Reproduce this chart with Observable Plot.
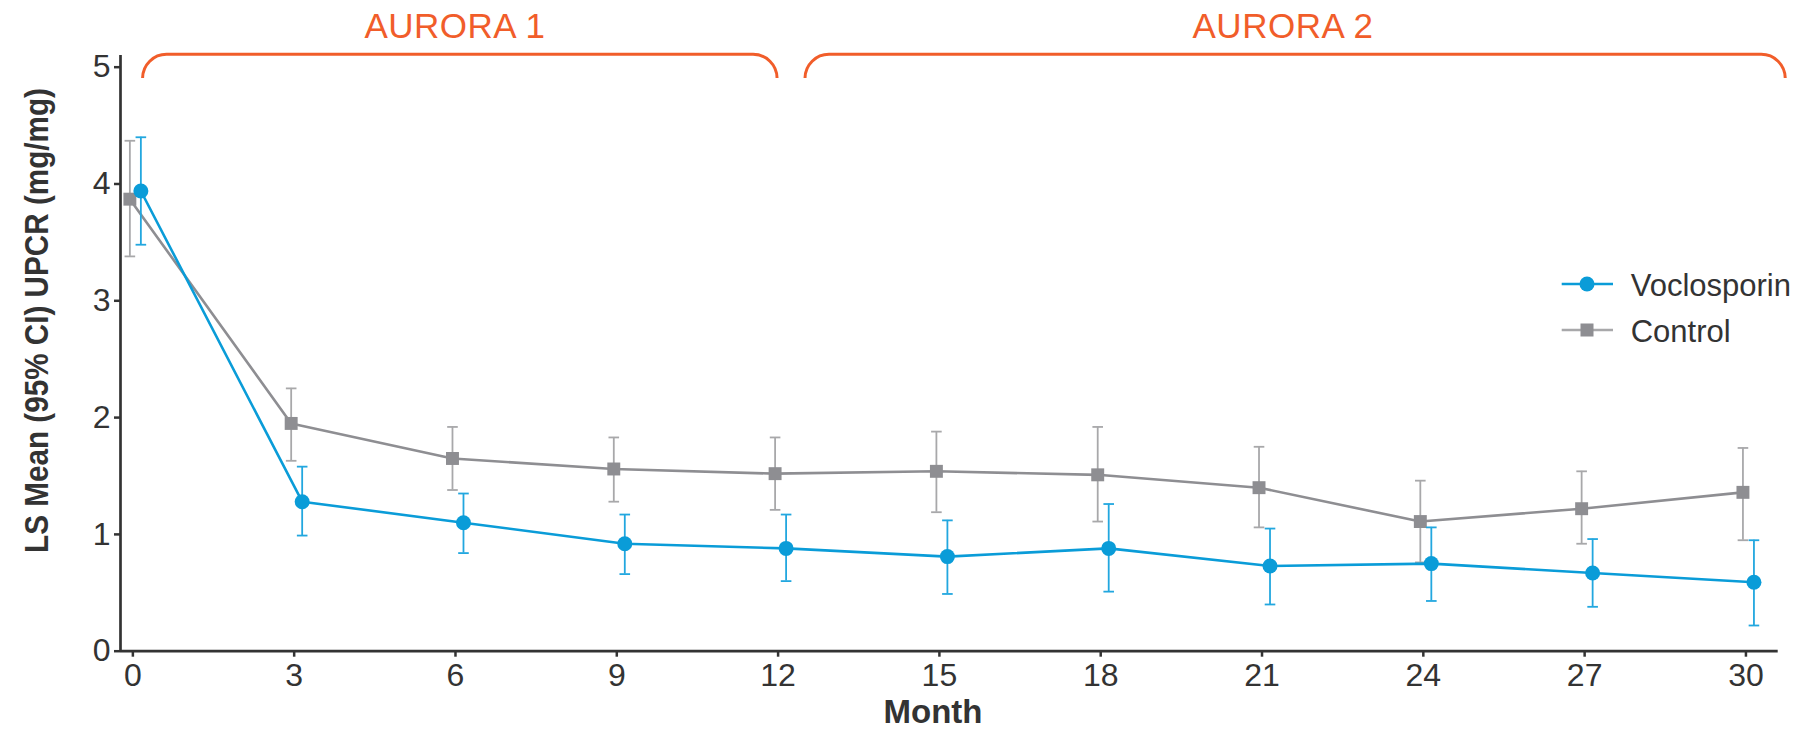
<!DOCTYPE html>
<html>
<head>
<meta charset="utf-8">
<script src="https://cdn.jsdelivr.net/npm/d3@7"></script>
<script src="https://cdn.jsdelivr.net/npm/@observablehq/plot@0.6"></script>
<style>
  html, body { margin: 0; padding: 0; background: #ffffff; }
  #chart svg { display: block; }
</style>
</head>
<body>
<div id="chart"></div>
<script>
// ---- Data ----
const months = [0, 3, 6, 9, 12, 15, 18, 21, 24, 27, 30];

const vocloMean  = [3.94, 1.28, 1.10, 0.92, 0.88, 0.81, 0.88, 0.73, 0.75, 0.67, 0.59];
const vocloLower = [3.48, 0.99, 0.84, 0.66, 0.60, 0.49, 0.51, 0.40, 0.43, 0.38, 0.22];
const vocloUpper = [4.40, 1.58, 1.35, 1.17, 1.17, 1.12, 1.26, 1.05, 1.06, 0.96, 0.95];

const controlMean  = [3.87, 1.95, 1.65, 1.56, 1.52, 1.54, 1.51, 1.40, 1.11, 1.22, 1.36];
const controlLower = [3.38, 1.63, 1.38, 1.28, 1.21, 1.19, 1.11, 1.06, 0.76, 0.92, 0.95];
const controlUpper = [4.37, 2.25, 1.92, 1.83, 1.83, 1.88, 1.92, 1.75, 1.46, 1.54, 1.74];

const seriesNames = ["Voclosporin", "Control"];
const yTicks = [0, 1, 2, 3, 4, 5];

const studyLabels     = ["AURORA 1", "AURORA 2"];
const studyStartMonth = [0.19, 12.51];
const studyEndMonth   = [11.99, 30.74];
const studyLabelMonth = [6.0, 21.4];

const xTitle = "Month";
const yTitle = "LS Mean (95% CI) UPCR (mg/mg)";

// ---- Styling ----
const FONT = "'Liberation Sans', Arial, Helvetica, sans-serif";
const BLUE = "#0a9cd8";
const BLUE_BAR = "#22a7df";
const GRAY = "#8e8e92";
const GRAY_BAR = "#a8a8aa";
const ORANGE = "#f15d2a";
const INK = "#333333";

const voc = months.map((m, i) => ({month: m, mean: vocloMean[i], lo: vocloLower[i], hi: vocloUpper[i]}));
const ctl = months.map((m, i) => ({month: m, mean: controlMean[i], lo: controlLower[i], hi: controlUpper[i]}));

const capSymbol = {
  draw(ctx, size) {
    const w = Math.sqrt(size / Math.PI);
    ctx.moveTo(-w, 0);
    ctx.lineTo(w, 0);
  }
};

const DX_CTL = -3, DX_VOC = 8;
const xMin = -0.23;

const plot = Plot.plot({
  width: 1802,
  height: 729,
  marginLeft: 120,
  marginRight: 24.3,
  marginTop: 55,
  marginBottom: 78.3,
  style: {fontFamily: FONT, fontSize: "32px", background: "#ffffff", color: INK},
  x: {domain: [xMin, 30.6]},
  y: {domain: [0, 5.1]},
  marks: [
    Plot.axisX({ticks: months, tickFormat: d => String(d), tickSize: 6, tickPadding: 6, fontSize: 32, color: INK, strokeWidth: 2.5, label: null}),
    Plot.axisY({ticks: yTicks, tickFormat: d => String(d), tickSize: 6, tickPadding: 4, fontSize: 32, color: INK, strokeWidth: 2.5, label: null}),
    Plot.ruleY([0], {stroke: INK, strokeWidth: 2.7}),
    Plot.ruleX([xMin], {stroke: INK, strokeWidth: 2.7}),

    // Control
    Plot.ruleX(ctl, {x: "month", y1: "lo", y2: "hi", stroke: GRAY_BAR, strokeWidth: 1.8, dx: DX_CTL}),
    Plot.dot(ctl, {x: "month", y: "lo", symbol: capSymbol, r: 5.3, stroke: GRAY_BAR, strokeWidth: 1.8, fill: "none", dx: DX_CTL}),
    Plot.dot(ctl, {x: "month", y: "hi", symbol: capSymbol, r: 5.3, stroke: GRAY_BAR, strokeWidth: 1.8, fill: "none", dx: DX_CTL}),
    Plot.line(ctl, {x: "month", y: "mean", stroke: GRAY, strokeWidth: 2.6, dx: DX_CTL}),
    Plot.dot(ctl, {x: "month", y: "mean", symbol: "square", r: 7.3, fill: GRAY, stroke: "none", dx: DX_CTL}),

    // Voclosporin
    Plot.ruleX(voc, {x: "month", y1: "lo", y2: "hi", stroke: BLUE_BAR, strokeWidth: 1.8, dx: DX_VOC}),
    Plot.dot(voc, {x: "month", y: "lo", symbol: capSymbol, r: 5.3, stroke: BLUE_BAR, strokeWidth: 1.8, fill: "none", dx: DX_VOC}),
    Plot.dot(voc, {x: "month", y: "hi", symbol: capSymbol, r: 5.3, stroke: BLUE_BAR, strokeWidth: 1.8, fill: "none", dx: DX_VOC}),
    Plot.line(voc, {x: "month", y: "mean", stroke: BLUE, strokeWidth: 2.6, dx: DX_VOC}),
    Plot.dot(voc, {x: "month", y: "mean", symbol: "circle", r: 7.5, fill: BLUE, stroke: "none", dx: DX_VOC})
  ]
});

document.getElementById("chart").appendChild(plot);

const svg = d3.select(plot);
const sx = plot.scale("x");

// Study brackets and labels
const yTop = 54.3, yBot = 78, rad = 24;
studyLabels.forEach((lab, i) => {
  const x1 = sx.apply(studyStartMonth[i]);
  const x2 = sx.apply(studyEndMonth[i]);
  svg.append("path")
    .attr("d", `M${x1},${yBot} A${rad},${rad} 0 0 1 ${x1 + rad},${yTop} L${x2 - rad},${yTop} A${rad},${rad} 0 0 1 ${x2},${yBot}`)
    .attr("fill", "none")
    .attr("stroke", ORANGE)
    .attr("stroke-width", 3);
  svg.append("text")
    .attr("x", sx.apply(studyLabelMonth[i]))
    .attr("y", 38)
    .attr("text-anchor", "middle")
    .attr("font-family", FONT)
    .attr("font-size", 35)
    .attr("letter-spacing", 0.5)
    .attr("fill", ORANGE)
    .text(lab);
});

// Axis titles
svg.append("text")
  .attr("x", 933)
  .attr("y", 723)
  .attr("text-anchor", "middle")
  .attr("font-family", FONT)
  .attr("font-weight", "bold")
  .attr("font-size", 33)
  .attr("fill", INK)
  .text(xTitle);

svg.append("text")
  .attr("transform", "translate(48,320.5) rotate(-90)")
  .attr("text-anchor", "middle")
  .attr("font-family", FONT)
  .attr("font-weight", "bold")
  .attr("font-size", 33)
  .attr("textLength", 465)
  .attr("lengthAdjust", "spacingAndGlyphs")
  .attr("fill", INK)
  .text(yTitle);

// Legend
const legend = svg.append("g");
const legendRows = [
  {name: seriesNames[0], y: 284, line: BLUE, fill: BLUE, shape: "circle"},
  {name: seriesNames[1], y: 330, line: GRAY_BAR, fill: GRAY, shape: "square"}
];
legendRows.forEach(r => {
  legend.append("line")
    .attr("x1", 1561.7).attr("x2", 1613)
    .attr("y1", r.y).attr("y2", r.y)
    .attr("stroke", r.line).attr("stroke-width", 2.6);
  if (r.shape === "circle") {
    legend.append("circle").attr("cx", 1587).attr("cy", r.y).attr("r", 7.5).attr("fill", r.fill);
  } else {
    legend.append("rect").attr("x", 1587 - 6.5).attr("y", r.y - 6.5).attr("width", 13).attr("height", 13).attr("fill", r.fill);
  }
  legend.append("text")
    .attr("x", 1630.7)
    .attr("y", r.y + 12)
    .attr("text-anchor", "start")
    .attr("font-family", FONT)
    .attr("font-size", 31)
    .attr("fill", INK)
    .text(r.name);
});
</script>
</body>
</html>
